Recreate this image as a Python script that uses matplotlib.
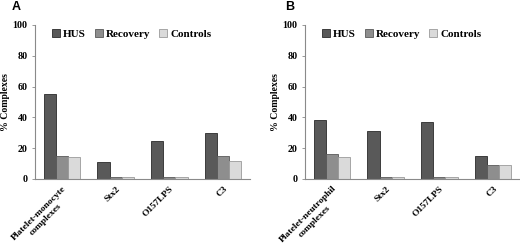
import matplotlib
matplotlib.use("Agg")
import matplotlib.pyplot as plt
import numpy as np

series = ["HUS", "Recovery", "Controls"]
cats_a = ["Platelet-monocyte\ncomplexes", "Stx2", "O157LPS", "C3"]
cats_b = ["Platelet-neutrophil\ncomplexes", "Stx2", "O157LPS", "C3"]
hus_a = [55, 11, 25, 30]
rec_a = [15, 1, 1, 15]
ctl_a = [14, 1, 1, 12]
hus_b = [38, 31, 37, 15]
rec_b = [16, 1, 1, 9]
ctl_b = [14, 1, 1, 9]
yticks = [0, 20, 40, 60, 80, 100]

colors = ["#595959", "#8e8e8e", "#dadada"]
edges = ["#2a2a2a", "#5a5a5a", "#9a9a9a"]

serif = ["Liberation Serif", "DejaVu Serif"]

fig = plt.figure(figsize=(5.2, 2.48), dpi=100)
ax_a = fig.add_axes([35/520, 1-179/248, (250-35)/520, (179-25)/248])
ax_b = fig.add_axes([305/520, 1-179/248, (520-305)/520, (179-25)/248])

def draw(ax, cats, vals, letter, lx):
    x = np.arange(len(cats))
    w = 0.225
    for i, (name, v) in enumerate(zip(series, vals)):
        ax.bar(x + (i-1)*w, v, w, color=colors[i], edgecolor=edges[i],
               linewidth=0.6, label=name)
    ax.set_xlim(-0.5, len(cats)-0.5)
    ax.set_ylim(0, 100)
    ax.set_yticks(yticks)
    ax.set_yticklabels([str(t) for t in yticks], fontfamily=serif,
                       fontweight="bold", fontsize=7.2)
    ax.set_xticks(x)
    ax.set_xticklabels(cats, rotation=45, ha="right", rotation_mode="anchor",
                       fontfamily=serif, fontweight="bold", fontsize=6.8,
                       multialignment="center")
    ax.tick_params(axis="x", length=0, pad=4)
    ax.tick_params(axis="y", length=2, width=0.6, color="#888888", pad=3.5)
    for s in ["top", "right"]:
        ax.spines[s].set_visible(False)
    for s in ["left", "bottom"]:
        ax.spines[s].set_color("#8a8a8a")
        ax.spines[s].set_linewidth(0.8)
    ax.set_ylabel("% Complexes", fontfamily=serif, fontweight="bold",
                  fontsize=7, labelpad=1.5)
    ax.legend(loc="upper center", bbox_to_anchor=(0.45, 1.04), ncol=3,
              frameon=False, handlelength=0.7, handleheight=0.7,
              handletextpad=0.3, columnspacing=0.8,
              prop={"family": serif, "weight": "bold", "size": 8})
    fig.text(lx/520, 1-7/248, letter, fontsize=9, fontweight="bold",
             fontfamily="Liberation Sans", va="center", ha="center")

draw(ax_a, cats_a, [hus_a, rec_a, ctl_a], "A", 16)
draw(ax_b, cats_b, [hus_b, rec_b, ctl_b], "B", 290)

fig.savefig("out.png", dpi=100)
